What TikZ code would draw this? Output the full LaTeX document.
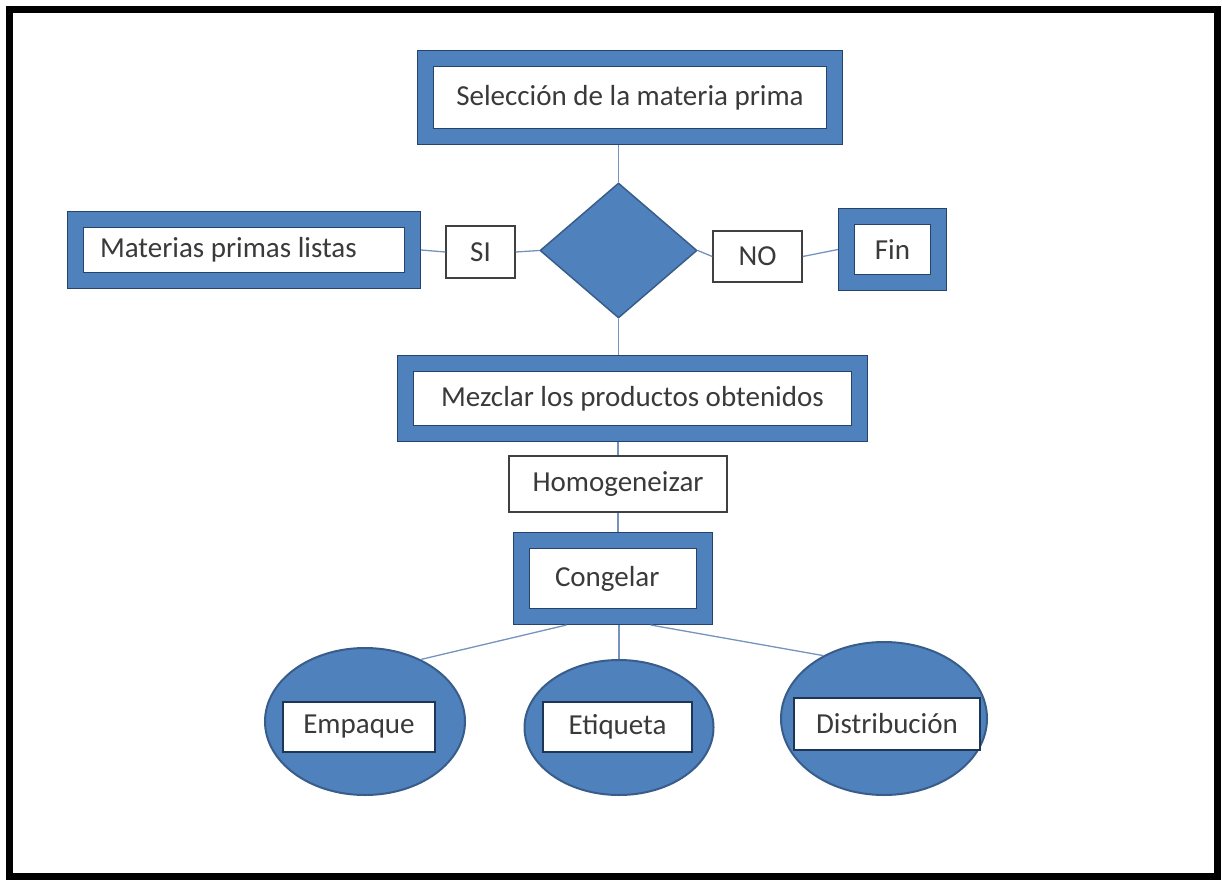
\documentclass[tikz,border=0pt]{standalone}
\usepackage{fontspec}
\setmainfont{Carlito}
\usepackage{tikz}
\usetikzlibrary{shapes.geometric}

\definecolor{boxblue}{HTML}{4F81BD}
\definecolor{edgeblue}{HTML}{385D8A}
\definecolor{bandline}{HTML}{26436B}
\definecolor{textgray}{HTML}{3A3A3A}
\definecolor{connblue}{HTML}{7593BE}

\begin{document}
\begin{tikzpicture}[x=1pt, y=-1pt,
    every node/.style={font=\fontsize{29}{34}\selectfont, text=textgray},
    procbox/.style={rectangle, draw=bandline, line width=1pt, double=boxblue,
      double distance=15pt, fill=white, inner sep=0pt, outer sep=8.5pt},
    labelbox/.style={rectangle, draw=black!75, line width=1.5pt, fill=white, inner sep=0pt},
    tagbox/.style={rectangle, draw=bandline!80!black, line width=2pt, fill=white, inner sep=0pt},
    blob/.style={ellipse, draw=edgeblue, line width=2pt, fill=boxblue, inner sep=0pt},
    conn/.style={draw=connblue, line width=1.3pt}]

    \useasboundingbox (0,0) rectangle (1222,880);
    \draw[line width=7pt] (9.5,9.5) rectangle (1217.5,876.5);

    % top of the chart
    \node[procbox, minimum width=409pt, minimum height=78pt] (sel) at (630,97.5) {Selección de la materia prima};
    \node[diamond, draw=edgeblue, line width=1.5pt, fill=boxblue, inner sep=0pt,
      minimum width=157pt, minimum height=135pt] (dia) at (618.5,250.5) {};
    \node[labelbox, minimum width=69pt, minimum height=52pt] (si) at (480.5,252) {SI};
    \node[labelbox, minimum width=89pt, minimum height=51pt] (no) at (757.5,256.5) {NO};
    \node[procbox, inner xsep=24.5pt, text width=288pt, align=flush left, minimum height=61pt] (mat) at (244,250) {Materias primas listas};
    \node[procbox, minimum width=92pt, minimum height=66pt] (fin) at (892.5,249.5) {Fin};

    % middle
    \node[procbox, minimum width=454pt, minimum height=70pt] (mez) at (632.5,398.5) {Mezclar los productos obtenidos};
    \node[labelbox, minimum width=218pt, minimum height=56pt] (hom) at (618,484) {Homogeneizar};
    \node[procbox, inner xsep=33.5pt, text width=116pt, align=flush left, minimum height=76pt] (con) at (613,578.5) {Congelar};

    % bottom ellipses
    \node[blob, minimum width=200pt, minimum height=147pt] (emp) at (365,721.5) {};
    \node[blob, minimum width=189pt, minimum height=135pt] (eti) at (619,727.5) {};
    \node[blob, minimum width=206pt, minimum height=153pt] (dis) at (884,718.5) {};
    \node[tagbox, minimum width=152pt, minimum height=50pt] (emp-t) at (359,727) {Empaque};
    \node[tagbox, minimum width=149pt, minimum height=50pt] (eti-t) at (617.5,727) {Etiqueta};
    \node[tagbox, minimum width=186pt, minimum height=52pt] (dis-t) at (887,724) {Distribución};

    \path[conn]
    (dia.north |- sel.south) edge (dia.north)
    (mat.east) edge (si.west)
    (si.east) edge (dia.west)
    (dia.east) edge (no.west)
    (no.east) edge (fin.west)
    (dia.south) edge (dia.south |- mez.north)
    (hom.north |- mez.south) edge (hom.north)
    (hom.south) edge (hom.south |- con.north)
    (con.225) edge (emp.48)
    (eti.north |- con.south) edge (eti.north)
    (con.-51) edge (dis.134);
\end{tikzpicture}
\end{document}
